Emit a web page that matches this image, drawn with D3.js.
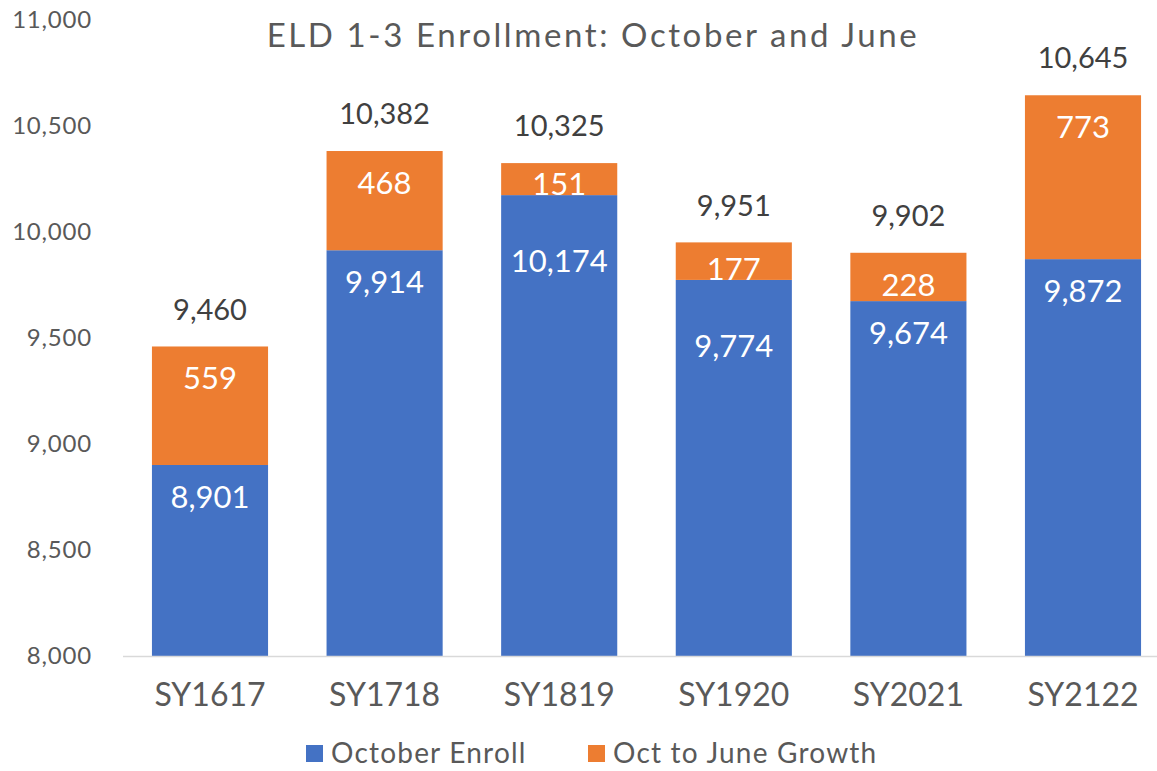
<!DOCTYPE html>
<html>
<head>
<meta charset="utf-8">
<script src="https://cdn.jsdelivr.net/npm/d3@7"></script>
<style>
  body { margin: 0; background: #fff; }
  text { font-family: Lato, "Open Sans", sans-serif; }
</style>
</head>
<body>
<div id="vis-container"></div>
<script>
// data
const years = ["SY1617", "SY1718", "SY1819", "SY1920", "SY2021", "SY2122"]
const octoberEnroll = [8901, 9914, 10174, 9774, 9674, 9872]
const growth = [559, 468, 151, 177, 228, 773]
const totals = [9460, 10382, 10325, 9951, 9902, 10645]
const yTicks = [8000, 8500, 9000, 9500, 10000, 10500, 11000]
const seriesNames = ["October Enroll", "Oct to June Growth"]

const svgWidth = 1157
const svgHeight = 771
const blue = "#4472C4"
const orange = "#ED7D31"
const grey = "#595959"

const svg = d3.select("#vis-container")
  .append("svg")
  .attr("width", svgWidth)
  .attr("height", svgHeight)

// scales
const x = d3.scaleBand()
  .domain(years)
  .range([122.7, 1170.3])
  .paddingInner(0.335)
  .paddingOuter(0.1675)

const y = d3.scaleLinear()
  .domain([8000, 11000])
  .range([656, 20])

const fmt = d3.format(",")

// title
svg.append("text")
  .attr("x", 593)
  .attr("y", 47)
  .attr("text-anchor", "middle")
  .attr("fill", grey)
  .style("font-size", "33px")
  .style("letter-spacing", "2.6px")
  .text("ELD 1-3 Enrollment: October and June")

// y axis (labels only)
const yAxis = d3.axisLeft(y).tickValues(yTicks).tickFormat(fmt).tickSize(0).tickPadding(0)
const yg = svg.append("g").attr("transform", "translate(92,0)").call(yAxis)
yg.select(".domain").remove()
yg.selectAll("text").attr("fill", grey).style("font-size", "24px").style("letter-spacing", "0.8px").attr("font-family", null)

// bars
const rows = years.map((d, i) => ({ year: d, oct: octoberEnroll[i], grow: growth[i], total: totals[i] }))

const g = svg.append("g")

g.selectAll(".oct")
  .data(rows)
  .join("rect")
  .attr("class", "oct")
  .attr("x", d => x(d.year))
  .attr("width", x.bandwidth())
  .attr("y", d => y(d.oct))
  .attr("height", d => y(8000) - y(d.oct))
  .attr("fill", blue)

g.selectAll(".grow")
  .data(rows)
  .join("rect")
  .attr("class", "grow")
  .attr("x", d => x(d.year))
  .attr("width", x.bandwidth())
  .attr("y", d => y(d.oct + d.grow))
  .attr("height", d => y(d.oct) - y(d.oct + d.grow))
  .attr("fill", orange)

// baseline
svg.append("line")
  .attr("x1", 123).attr("x2", svgWidth)
  .attr("y1", y(8000) + 0.5).attr("y2", y(8000) + 0.5)
  .attr("stroke", "#d9d9d9")
  .attr("stroke-width", 1.5)

// x axis
const xAxis = d3.axisBottom(x).tickSize(0).tickPadding(0)
const xg = svg.append("g").attr("transform", "translate(0,706)").call(xAxis)
xg.select(".domain").remove()
xg.selectAll("text").attr("fill", grey).style("font-size", "32px").attr("font-family", null).attr("dy", 0)

// data labels
const orangeLabelY = d => {
  const top = y(d.oct + d.grow), bottom = y(d.oct)
  return Math.min(top + 32, bottom - 11)
}
const smallGrowth = d => (y(d.oct) - y(d.oct + d.grow)) < 40

g.selectAll(".lbl-grow")
  .data(rows)
  .join("text")
  .attr("class", "lbl-grow")
  .attr("x", d => x(d.year) + x.bandwidth() / 2)
  .attr("y", d => orangeLabelY(d))
  .attr("dy", "0.35em")
  .attr("text-anchor", "middle")
  .attr("fill", "#fff")
  .style("font-size", "31px")
  .text(d => fmt(d.grow))

g.selectAll(".lbl-oct")
  .data(rows)
  .join("text")
  .attr("class", "lbl-oct")
  .attr("x", d => x(d.year) + x.bandwidth() / 2)
  .attr("y", d => y(d.oct) + (smallGrowth(d) ? 66 : 32))
  .attr("dy", "0.35em")
  .attr("text-anchor", "middle")
  .attr("fill", "#fff")
  .style("font-size", "31px")
  .text(d => fmt(d.oct))

g.selectAll(".lbl-total")
  .data(rows)
  .join("text")
  .attr("class", "lbl-total")
  .attr("x", d => x(d.year) + x.bandwidth() / 2)
  .attr("y", d => y(d.total) - 37)
  .attr("dy", "0.35em")
  .attr("text-anchor", "middle")
  .attr("fill", "#404040")
  .style("font-size", "29px")
  .text(d => fmt(d.total))

// legend
const legendItems = [
  { name: seriesNames[0], color: blue, x: 306 },
  { name: seriesNames[1], color: orange, x: 588 }
]
const lg = svg.append("g").selectAll("g")
  .data(legendItems)
  .join("g")
  .attr("transform", d => `translate(${d.x},745)`)

lg.append("rect").attr("width", 17).attr("height", 17).attr("y", 0).attr("fill", d => d.color)
lg.append("text")
  .attr("x", 25)
  .attr("y", 8.5)
  .attr("dy", "0.35em")
  .attr("fill", grey)
  .style("font-size", "28px")
  .style("letter-spacing", "1.2px")
  .text(d => d.name)
</script>
</body>
</html>
